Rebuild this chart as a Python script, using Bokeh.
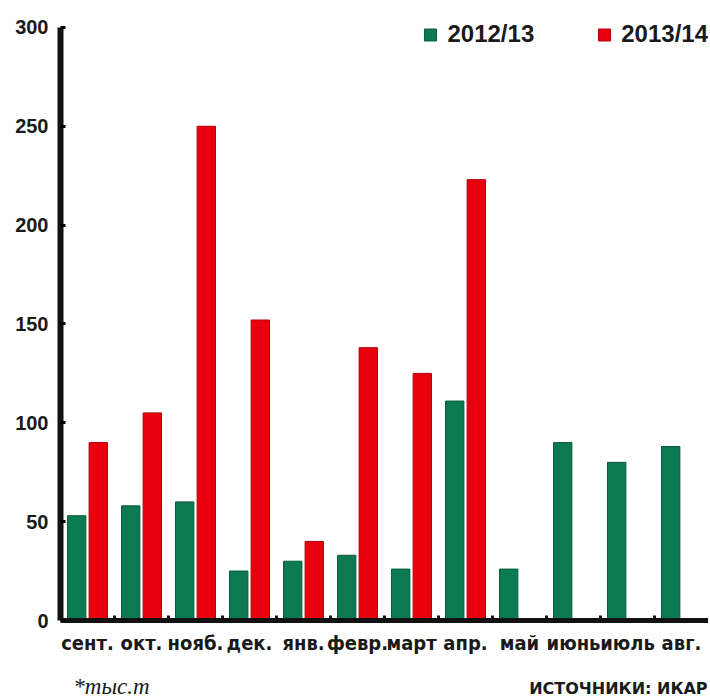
from bokeh.plotting import figure
from bokeh.models import (FixedTicker, Legend, LegendItem, Label, ColumnDataSource, Range1d)
from bokeh.transform import dodge
from bokeh.layouts import column
from bokeh.embed import file_html
from bokeh.resources import INLINE

# ---- data ----
months = ["сент.", "окт.", "нояб.", "дек.", "янв.", "февр.", "март", "апр.",
          "май", "июнь", "июль", "авг."]
season_1213 = [53, 58, 60, 25, 30, 33, 26, 111, 26, 90, 80, 88]
season_1314 = [90, 105, 250, 152, 40, 138, 125, 223]   # сент.–апр. only
series_names = ["2012/13", "2013/14"]
y_ticks = [0, 50, 100, 150, 200, 250, 300]
unit_note = "*тыс.т"
source_note = "ИСТОЧНИКИ: ИКАР"

GREEN = "#0b7a50"
RED = "#e8000d"
COND = "DejaVu Sans Condensed"
W = 708

src_g = ColumnDataSource(dict(x=list(range(len(season_1213))), top=season_1213))
src_r = ColumnDataSource(dict(x=list(range(len(season_1314))), top=season_1314))

p = figure(width=W, height=670, output_backend="svg", toolbar_location=None,
           x_range=Range1d(-0.5, len(months) - 0.5), y_range=Range1d(0, 303.5),
           min_border_left=60, min_border_right=0, min_border_top=20,
           min_border_bottom=50, background_fill_color="white",
           border_fill_color="white")
p.outline_line_color = None
p.xgrid.visible = False
p.ygrid.visible = False

g = p.vbar(x=dodge("x", -0.2), top="top", width=0.34, source=src_g,
           fill_color=GREEN, line_color="#0a5a3a", line_width=1)
r = p.vbar(x=dodge("x", 0.2), top="top", width=0.34, source=src_r,
           fill_color=RED, line_color="#b0000a", line_width=1)

# y axis
ya = p.yaxis[0]
ya.ticker = FixedTicker(ticks=y_ticks)
ya.bounds = (0, 300)
ya.axis_line_width = 6
ya.axis_line_color = "#111111"
ya.major_tick_in = 5
ya.major_tick_out = 0
ya.major_tick_line_width = 3
ya.minor_tick_line_color = None
ya.major_label_standoff = 12
ya.major_label_text_font = "Liberation Sans"
ya.major_label_text_font_style = "bold"
ya.major_label_text_font_size = "20px"
ya.major_label_text_color = "#1a1a1a"

# x axis
xa = p.xaxis[0]
xa.ticker = FixedTicker(ticks=list(range(len(months))),
                        minor_ticks=[i + 0.5 for i in range(len(months) - 1)])
xa.major_label_overrides = {i: m for i, m in enumerate(months)}
xa.axis_line_width = 5
xa.axis_line_color = "#111111"
xa.major_tick_in = 0
xa.major_tick_out = 0
xa.minor_tick_in = 5
xa.minor_tick_out = 0
xa.minor_tick_line_width = 3
xa.minor_tick_line_color = "#111111"
xa.major_label_standoff = 10
xa.major_label_text_font = COND
xa.major_label_text_font_style = "bold"
xa.major_label_text_font_size = "20px"
xa.major_label_text_color = "#1a1a1a"

legend = Legend(items=[LegendItem(label=series_names[0], renderers=[g]),
                       LegendItem(label=series_names[1], renderers=[r])],
                orientation="horizontal", location="top_right")
legend.glyph_width = 15
legend.glyph_height = 15
legend.label_standoff = 10
legend.spacing = 62
legend.padding = 0
legend.margin = 0
legend.border_line_alpha = 0
legend.background_fill_alpha = 0
legend.label_text_font = "Liberation Sans"
legend.label_text_font_style = "bold"
legend.label_text_font_size = "24px"
legend.label_text_color = "#1a1a1a"
p.add_layout(legend)

# footer strip with the notes
foot = figure(width=W, height=29, output_backend="svg", toolbar_location=None,
              x_range=Range1d(0, W), y_range=Range1d(0, 29),
              x_axis_type=None, y_axis_type=None, min_border=0,
              background_fill_color="white", border_fill_color="white")
foot.outline_line_color = None
foot.xgrid.visible = False
foot.ygrid.visible = False
foot.add_layout(Label(x=14, y=13, text=unit_note, text_font="Liberation Serif",
                      text_font_style="italic", text_font_size="23px",
                      text_color="#1a1a1a", text_baseline="alphabetic"))
foot.add_layout(Label(x=707, y=11, text=source_note, text_font="DejaVu Sans",
                      text_font_style="bold", text_font_size="16px",
                      text_color="#1a1a1a", text_align="right",
                      text_baseline="alphabetic"))

layout = column(p, foot, spacing=0)
open("out.html", "w").write(file_html(layout, INLINE))
